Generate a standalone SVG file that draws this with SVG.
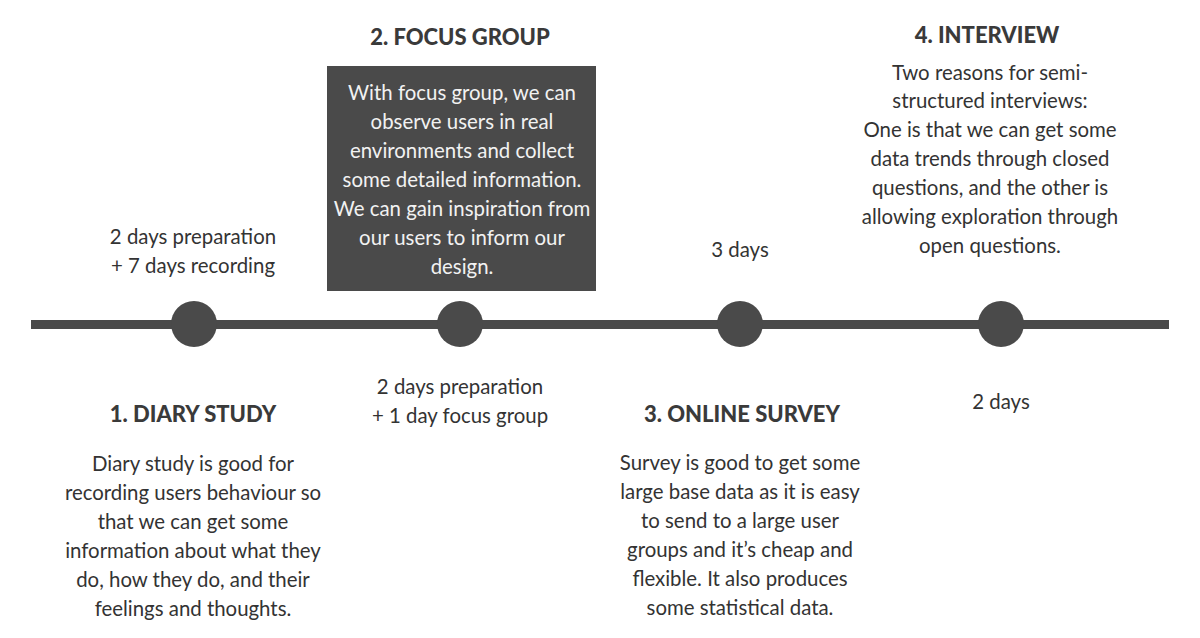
<svg xmlns="http://www.w3.org/2000/svg" width="1200" height="638" viewBox="0 0 1200 638">
  <style>
    .t { font-family: "Lato", "Noto Sans", sans-serif; font-size: 20.4px; fill: #333333; text-anchor: middle; }
    .h { font-family: "Lato", "Noto Sans", sans-serif; font-size: 22px; font-weight: 900; fill: #3a3a3a; text-anchor: middle; }
    .w { fill: #f2f2f2; }
    .dot { fill: #4a4a4a; }
  </style>
  <rect width="1200" height="638" fill="#ffffff"/>

  <!-- timeline axis -->
  <g id="connectors">
    <rect x="31" y="320" width="1138" height="9" fill="#4a4a4a"/>
  </g>

  <g id="diary-study">
    <circle class="dot" cx="194" cy="324" r="23"/>
    <text class="t" x="193" y="244">2 days preparation</text>
    <text class="t" x="193" y="273">+ 7 days recording</text>
    <text class="h" x="193" y="422">1. DIARY STUDY</text>
    <text class="t" x="193" y="471">Diary study is good for</text>
    <text class="t" x="193" y="500">recording users behaviour so</text>
    <text class="t" x="193" y="529">that we can get some</text>
    <text class="t" x="193" y="558">information about what they</text>
    <text class="t" x="193" y="587">do, how they do, and their</text>
    <text class="t" x="193" y="616">feelings and thoughts.</text>
  </g>

  <g id="focus-group">
    <circle class="dot" cx="460" cy="324" r="23"/>
    <text class="h" x="460" y="45">2. FOCUS GROUP</text>
    <rect x="327" y="66" width="269" height="225" fill="#4a4a4a"/>
    <text class="t w" x="462" y="100">With focus group, we can</text>
    <text class="t w" x="462" y="129">observe users in real</text>
    <text class="t w" x="462" y="158">environments and collect</text>
    <text class="t w" x="462" y="187">some detailed information.</text>
    <text class="t w" x="462" y="216">We can gain inspiration from</text>
    <text class="t w" x="462" y="245">our users to inform our</text>
    <text class="t w" x="462" y="274">design.</text>
    <text class="t" x="460" y="394">2 days preparation</text>
    <text class="t" x="460" y="423">+ 1 day focus group</text>
  </g>

  <g id="online-survey">
    <circle class="dot" cx="740" cy="324" r="23"/>
    <text class="t" x="740" y="257">3 days</text>
    <text class="h" x="742" y="422">3. ONLINE SURVEY</text>
    <text class="t" x="740" y="470">Survey is good to get some</text>
    <text class="t" x="740" y="499">large base data as it is easy</text>
    <text class="t" x="740" y="528">to send to a large user</text>
    <text class="t" x="740" y="557">groups and it’s cheap and</text>
    <text class="t" x="740" y="586">flexible. It also produces</text>
    <text class="t" x="740" y="615">some statistical data.</text>
  </g>

  <g id="interview">
    <circle class="dot" cx="1001" cy="324" r="23"/>
    <text class="h" x="987" y="43">4. INTERVIEW</text>
    <text class="t" x="990" y="80">Two reasons for semi-</text>
    <text class="t" x="990" y="108">structured interviews:</text>
    <text class="t" x="990" y="137">One is that we can get some</text>
    <text class="t" x="990" y="166">data trends through closed</text>
    <text class="t" x="990" y="195">questions, and the other is</text>
    <text class="t" x="990" y="224">allowing exploration through</text>
    <text class="t" x="990" y="253">open questions.</text>
    <text class="t" x="1001" y="409">2 days</text>
  </g>
</svg>
